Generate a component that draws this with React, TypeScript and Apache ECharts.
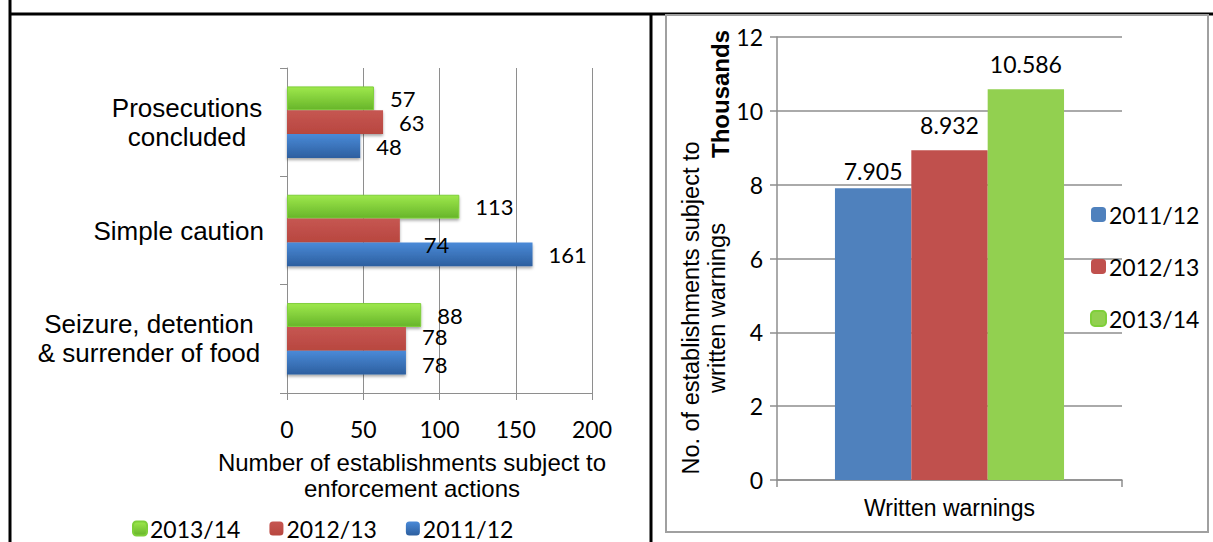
import React, { useEffect, useRef } from "react";
import * as echarts from "echarts";

const seriesNames = ["2013/14", "2012/13", "2011/12"];
const leftCategories = ["Seizure, detention\n& surrender of food", "Simple caution", "Prosecutions\nconcluded"];
const left2011 = [78, 161, 48];
const left2012 = [78, 74, 63];
const left2013 = [88, 113, 57];
const leftTicks = { min: 0, max: 200, interval: 50 };

const rightCategories = ["Written warnings"];
const right2011 = [7.905];
const right2012 = [8.932];
const right2013 = [10.586];
const rightTicks = { min: 0, max: 12, interval: 2 };

const CAL = "Lato, 'Open Sans', sans-serif";
const ARIAL = "'Liberation Sans', Arial, sans-serif";

const grad = (a: string, b: string) =>
  new echarts.graphic.LinearGradient(0, 0, 0, 1, [
    { offset: 0, color: a },
    { offset: 1, color: b },
  ]);

export default function App() {
  const ref = useRef<HTMLDivElement>(null);
  useEffect(() => {
    if (!ref.current) return;
    const chart = echarts.init(ref.current, undefined, { renderer: "svg" });
    const greenG = grad("#9ee84c", "#67b52a");
    const redG = grad("#c65652", "#b8473f");
    const blueG = grad("#4a8ad8", "#2d5f9f");
    const leftLabel = (extra: any = {}) => ({
      show: true,
      position: "right",
      distance: 16,
      fontFamily: CAL,
      fontSize: 22,
      lineHeight: 18,
      padding: 0,
      color: "#000",
      ...extra,
    });
    const topLabel = {
      show: true,
      position: "top",
      distance: 14,
      fontFamily: CAL,
      fontSize: 23,
      color: "#000",
      formatter: (p: any) => p.value.toFixed(3),
    };
    const shadow = { shadowBlur: 3, shadowColor: "rgba(0,0,0,0.35)", shadowOffsetY: 2 };
    const option: any = {
      animation: false,
      backgroundColor: "#fff",
      grid: [
        { left: 287, top: 68, width: 305, height: 325 },
        { left: 777, top: 37, width: 345, height: 443 },
      ],
      xAxis: [
        {
          gridIndex: 0,
          type: "value",
          min: leftTicks.min,
          max: leftTicks.max,
          interval: leftTicks.interval,
          axisLine: { show: true, lineStyle: { color: "#8e8e8e", width: 1 } },
          axisTick: { show: true, length: 7, lineStyle: { color: "#8e8e8e" } },
          splitLine: { show: true, lineStyle: { color: "#8e8e8e", width: 1 } },
          axisLabel: { fontFamily: CAL, fontSize: 23, color: "#000", margin: 24 },
        },
        {
          gridIndex: 1,
          type: "category",
          data: rightCategories,
          axisLine: { show: true, lineStyle: { color: "#8e8e8e", width: 1.5 } },
          axisTick: { show: true, length: 7, lineStyle: { color: "#8e8e8e", width: 1.5 } },
          axisLabel: { fontFamily: ARIAL, fontSize: 23, color: "#000", margin: 16 },
        },
      ],
      yAxis: [
        {
          gridIndex: 0,
          type: "category",
          data: leftCategories,
          axisLine: { show: true, lineStyle: { color: "#8e8e8e", width: 1 } },
          axisTick: { show: true, length: 7, lineStyle: { color: "#8e8e8e" } },
          axisLabel: {
            margin: 23,
            color: "#000",
            fontFamily: ARIAL,
            fontSize: 26,
            formatter: (v: string) => {
              if (v.indexOf("\n") < 0) return v;
              const key = v.length > 25 ? "s" : "p";
              return v
                .split("\n")
                .map((l) => `{${key}|${l}}`)
                .join("\n");
            },
            rich: {
              p: { width: 154, align: "center", fontFamily: ARIAL, fontSize: 26, color: "#000", lineHeight: 29 },
              s: { width: 230, align: "center", fontFamily: ARIAL, fontSize: 26, color: "#000", lineHeight: 29 },
            },
          },
        },
        {
          gridIndex: 1,
          type: "value",
          min: rightTicks.min,
          max: rightTicks.max,
          interval: rightTicks.interval,
          axisLine: { show: true, lineStyle: { color: "#8e8e8e", width: 1.5 } },
          axisTick: { show: true, length: 7, lineStyle: { color: "#8e8e8e", width: 1.5 } },
          splitLine: { show: true, lineStyle: { color: "#8e8e8e", width: 1.5 } },
          axisLabel: { fontFamily: CAL, fontSize: 23, color: "#000", margin: 14 },
        },
      ],
      legend: [
        {
          orient: "horizontal",
          left: 127,
          top: 512,
          itemWidth: 14,
          itemHeight: 14,
          itemGap: 29,
          textStyle: { fontFamily: CAL, fontSize: 23, color: "#000", padding: [0, 0, 0, -2] },
          data: [
            { name: seriesNames[0], itemStyle: { color: greenG } },
            { name: seriesNames[1], itemStyle: { color: redG } },
            { name: seriesNames[2], itemStyle: { color: blueG } },
          ],
        },
        {
          orient: "vertical",
          left: 1085,
          top: 198,
          itemWidth: 15,
          itemHeight: 15,
          itemGap: 29,
          textStyle: { fontFamily: CAL, fontSize: 23, color: "#000", padding: [0, 0, 0, -2] },
          data: [
            { name: seriesNames[2], itemStyle: { color: "#4f81bd" } },
            { name: seriesNames[1], itemStyle: { color: "#c0504d" } },
            { name: seriesNames[0], itemStyle: { color: "#92d050" } },
          ],
        },
      ],
      series: [
        {
          name: seriesNames[0],
          type: "bar",
          xAxisIndex: 0,
          yAxisIndex: 0,
          data: left2013,
          barGap: 0,
          barCategoryGap: "34%",
          itemStyle: { color: greenG, borderColor: "#7fcf3a", borderWidth: 1, ...shadow },
          label: leftLabel(),
        },
        {
          name: seriesNames[1],
          type: "bar",
          xAxisIndex: 0,
          yAxisIndex: 0,
          data: left2012.map((v, i) =>
            i === 1
              ? { value: v, label: { offset: [8, 14] } }
              : i === 0
              ? { value: v, label: { offset: [0, -2] } }
              : v
          ),
          itemStyle: { color: redG, ...shadow },
          label: leftLabel(),
        },
        {
          name: seriesNames[2],
          type: "bar",
          xAxisIndex: 0,
          yAxisIndex: 0,
          data: left2011.map((v, i) => (i === 0 ? { value: v, label: { offset: [0, 2] } } : v)),
          itemStyle: { color: blueG, ...shadow },
          label: leftLabel(),
        },
        {
          name: seriesNames[2],
          type: "bar",
          xAxisIndex: 1,
          yAxisIndex: 1,
          data: right2011.map((v) => ({ value: v, label: { offset: [0, 8] } })),
          barGap: 0,
          barCategoryGap: "33.6%",
          itemStyle: { color: "#4f81bd" },
          label: topLabel,
        },
        {
          name: seriesNames[1],
          type: "bar",
          xAxisIndex: 1,
          yAxisIndex: 1,
          data: right2012,
          itemStyle: { color: "#c0504d" },
          label: topLabel,
        },
        {
          name: seriesNames[0],
          type: "bar",
          xAxisIndex: 1,
          yAxisIndex: 1,
          data: right2013,
          itemStyle: { color: "#92d050" },
          label: topLabel,
        },
      ],
      graphic: [
        { type: "line", shape: { x1: 9, y1: 14, x2: 1213, y2: 14 }, style: { stroke: "#000", lineWidth: 3 } },
        { type: "line", shape: { x1: 10, y1: 0, x2: 10, y2: 542 }, style: { stroke: "#000", lineWidth: 3 } },
        { type: "line", shape: { x1: 651, y1: 14, x2: 651, y2: 542 }, style: { stroke: "#000", lineWidth: 3 } },
        {
          type: "rect",
          shape: { x: 666, y: 15, width: 542, height: 517 },
          style: { fill: "none", stroke: "#a0a0a0", lineWidth: 2 },
        },
        {
          type: "text",
          x: 412,
          y: 449,
          style: {
            text: "Number of establishments subject to\nenforcement actions",
            font: `24px ${ARIAL}`,
            fill: "#000",
            align: "center",
            verticalAlign: "top",
            lineHeight: 26,
          },
        },
        {
          type: "text",
          x: 704,
          y: 308,
          rotation: Math.PI / 2,
          style: {
            text: "No. of establishments subject to\nwritten warnings",
            font: `23.5px ${ARIAL}`,
            fill: "#000",
            align: "center",
            verticalAlign: "middle",
            lineHeight: 26,
          },
        },
        {
          type: "text",
          x: 720,
          y: 94,
          rotation: Math.PI / 2,
          style: {
            text: "Thousands",
            font: `bold 24px ${ARIAL}`,
            fill: "#000",
            align: "center",
            verticalAlign: "middle",
          },
        },
      ],
    };
    chart.setOption(option);
    return () => chart.dispose();
  }, []);
  return (
    <div
      ref={ref}
      style={{ position: "absolute", left: 0, top: 0, width: 1213, height: 542 }}
    />
  );
}
